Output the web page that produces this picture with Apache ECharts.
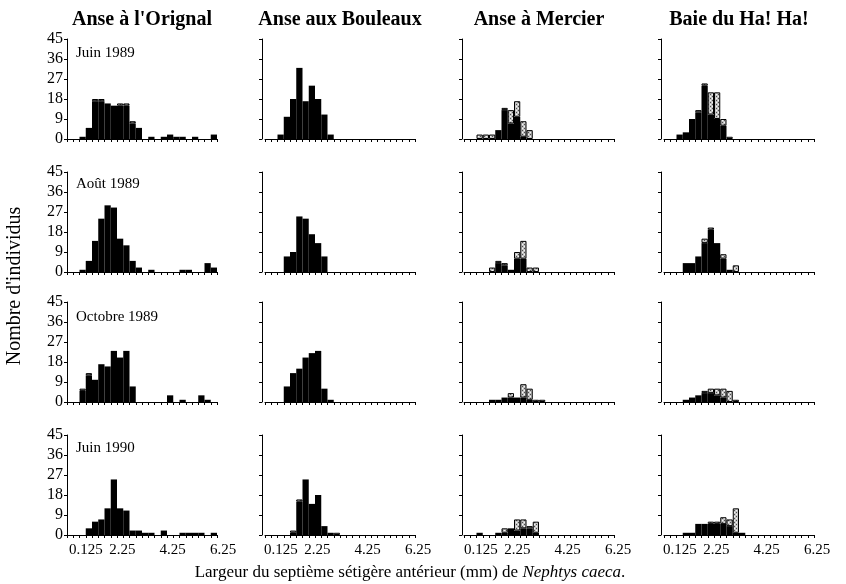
<!DOCTYPE html>
<html><head><meta charset="utf-8">
<script src="https://cdn.jsdelivr.net/npm/echarts@6/dist/echarts.min.js"></script>
<style>html,body{margin:0;padding:0;background:#fff}#c{width:846px;height:584px}</style>
</head><body><div id="c"></div>
<script>
// ---- Data ----
const sites = ["Anse à l'Orignal", "Anse aux Bouleaux", "Anse à Mercier", "Baie du Ha! Ha!"];
const dates = ["Juin 1989", "Août 1989", "Octobre 1989", "Juin 1990"];
const yTicks = [0, 9, 18, 27, 36, 45];
const xTickLabels = [0.125, 2.25, 4.25, 6.25];
const bins = ["b01","b02","b03","b04","b05","b06","b07","b08","b09","b10","b11","b12",
              "b13","b14","b15","b16","b17","b18","b19","b20","b21","b22","b23","b24"];

// black (solid) part and stippled part of each histogram, per bin
// Juin 1989
const orignal_jun89_black  = [0,0,1,5,17,17,16,15,15,15,7,5,0,1,0,1,2,1,1,0,1,0,0,2];
const orignal_jun89_stip   = [0,0,0,0,1,1,0,0,1,1,1,0,0,0,0,0,0,0,0,0,0,0,0,0];
const bouleaux_jun89_black = [0,0,2,10,18,32,17,24,18,11,2,0,0,0,0,0,0,0,0,0,0,0,0,0];
const bouleaux_jun89_stip  = [0,0,0,0,0,0,0,0,0,0,0,0,0,0,0,0,0,0,0,0,0,0,0,0];
const mercier_jun89_black  = [0,0,0,0,0,4,13,7,10,1,0,0,0,0,0,0,0,0,0,0,0,0,0,0];
const mercier_jun89_stip   = [0,0,2,2,2,0,1,6,7,7,4,0,0,0,0,0,0,0,0,0,0,0,0,0];
const haha_jun89_black     = [0,0,2,3,9,12,24,11,9,6,0,0,0,0,0,0,0,0,0,0,0,0,0,0];
const haha_jun89_stip      = [0,0,0,0,0,1,1,10,12,3,1,0,0,0,0,0,0,0,0,0,0,0,0,0];
// Août 1989
const orignal_aou89_black  = [0,0,1,5,14,24,30,29,15,12,5,2,0,1,0,0,0,0,1,1,0,0,4,2];
const orignal_aou89_stip   = [0,0,0,0,0,0,0,0,0,0,0,0,0,0,0,0,0,0,0,0,0,0,0,0];
const bouleaux_aou89_black = [0,0,0,7,9,25,24,17,13,7,0,0,0,0,0,0,0,0,0,0,0,0,0,0];
const bouleaux_aou89_stip  = [0,0,0,0,0,0,0,0,0,0,0,0,0,0,0,0,0,0,0,0,0,0,0,0];
const mercier_aou89_black  = [0,0,0,0,0,4,3,1,6,6,0,0,0,0,0,0,0,0,0,0,0,0,0,0];
const mercier_aou89_stip   = [0,0,0,0,2,1,1,0,3,8,2,2,0,0,0,0,0,0,0,0,0,0,0,0];
const haha_aou89_black     = [0,0,0,4,4,7,13,19,13,6,1,0,0,0,0,0,0,0,0,0,0,0,0,0];
const haha_aou89_stip      = [0,0,0,0,0,0,2,1,0,2,0,3,0,0,0,0,0,0,0,0,0,0,0,0];
// Octobre 1989
const orignal_oct89_black  = [0,0,5,12,10,17,16,23,20,23,7,0,0,0,0,0,3,0,1,0,0,3,1,0];
const orignal_oct89_stip   = [0,0,1,1,0,0,0,0,0,0,0,0,0,0,0,0,0,0,0,0,0,0,0,0];
const bouleaux_oct89_black = [0,0,0,7,13,15,20,22,23,6,1,0,0,0,0,0,0,0,0,0,0,0,0,0];
const bouleaux_oct89_stip  = [0,0,0,0,0,0,0,0,0,0,0,0,0,0,0,0,0,0,0,0,0,0,0,0];
const mercier_oct89_black  = [0,0,0,0,1,1,2,2,2,2,1,0,0,0,0,0,0,0,0,0,0,0,0,0];
const mercier_oct89_stip   = [0,0,0,0,0,0,0,2,0,6,5,1,1,0,0,0,0,0,0,0,0,0,0,0];
const haha_oct89_black     = [0,0,0,1,2,3,4,4,3,2,0,0,0,0,0,0,0,0,0,0,0,0,0,0];
const haha_oct89_stip      = [0,0,0,0,0,0,1,2,3,4,5,1,0,0,0,0,0,0,0,0,0,0,0,0];
// Juin 1990
const orignal_jun90_black  = [0,0,0,3,6,7,12,25,12,11,2,2,1,1,0,2,0,0,1,1,1,1,0,1];
const orignal_jun90_stip   = [0,0,0,0,0,0,0,0,0,0,0,0,0,0,0,0,0,0,0,0,0,0,0,0];
const bouleaux_jun90_black = [0,0,0,0,1,15,25,14,18,4,1,0,0,0,0,0,0,0,0,0,0,0,0,0];
const bouleaux_jun90_stip  = [0,0,0,0,1,1,0,0,0,0,0,1,0,0,0,0,0,0,0,0,0,0,0,0];
const mercier_jun90_black  = [0,0,1,0,0,1,1,3,2,3,3,1,0,0,0,0,0,0,0,0,0,0,0,0];
const mercier_jun90_stip   = [0,0,0,0,0,0,2,0,5,4,1,5,0,0,0,0,0,0,0,0,0,0,0,0];
const haha_jun90_black     = [0,0,0,1,1,5,5,5,5,5,4,1,1,0,0,0,0,0,0,0,0,0,0,0];
const haha_jun90_stip      = [0,0,0,0,0,0,0,1,1,3,3,11,0,0,0,0,0,0,0,0,0,0,0,0];

const panels = [
  [[orignal_jun89_black, orignal_jun89_stip],[bouleaux_jun89_black, bouleaux_jun89_stip],[mercier_jun89_black, mercier_jun89_stip],[haha_jun89_black, haha_jun89_stip]],
  [[orignal_aou89_black, orignal_aou89_stip],[bouleaux_aou89_black, bouleaux_aou89_stip],[mercier_aou89_black, mercier_aou89_stip],[haha_aou89_black, haha_aou89_stip]],
  [[orignal_oct89_black, orignal_oct89_stip],[bouleaux_oct89_black, bouleaux_oct89_stip],[mercier_oct89_black, mercier_oct89_stip],[haha_oct89_black, haha_oct89_stip]],
  [[orignal_jun90_black, orignal_jun90_stip],[bouleaux_jun90_black, bouleaux_jun90_stip],[mercier_jun90_black, mercier_jun90_stip],[haha_jun90_black, haha_jun90_stip]]
];

// ---- Layout ----
const axisX = [67, 262, 462, 661];      // y-axis line positions
const binShift = [0, 3, 2, 3];          // histogram start offset from the y-axis line
const rowTop = [39, 172, 302, 435];
const gW = 150, gH = 100;
const FONT = "'Liberation Serif', 'DejaVu Serif', serif";

function stipple() {
  const c = document.createElement('canvas');
  c.width = 4; c.height = 4;
  const g = c.getContext('2d');
  g.fillStyle = '#c4c4c4'; g.fillRect(0, 0, 4, 4);
  g.fillStyle = '#505050';
  g.fillRect(0, 0, 1, 1); g.fillRect(2, 2, 1, 1);
  g.fillStyle = '#f4f4f4';
  g.fillRect(2, 0, 1, 1); g.fillRect(0, 2, 1, 1);
  return c;
}
const stipPattern = { image: stipple(), repeat: 'repeat' };

const grid = [], xAxis = [], yAxis = [], series = [], graphic = [];
let gi = 0;
for (let r = 0; r < 4; r++) {
  for (let c = 0; c < 4; c++) {
    grid.push({ left: axisX[c] + binShift[c], top: rowTop[r], width: gW, height: gH });
    xAxis.push({
      type: 'category', gridIndex: gi, data: bins, position: 'bottom',
      boundaryGap: true,
      axisLine: { show: true, lineStyle: { color: '#000', width: 1 } },
      axisTick: { show: true, length: 3, interval: 0, lineStyle: { color: '#000' } },
      axisLabel: { show: false }, splitLine: { show: false }
    });
    yAxis.push({
      type: 'value', gridIndex: gi, min: 0, max: 45, interval: 9, offset: binShift[c],
      axisLine: { show: true, lineStyle: { color: '#000', width: 1 } },
      axisTick: { show: true, length: 3, lineStyle: { color: '#000' } },
      axisLabel: { show: c === 0, color: '#000', fontFamily: FONT, fontSize: 16, margin: 4,
        customValues: yTicks },
      splitLine: { show: false }
    });
    const [blk, stp] = panels[r][c];
    series.push({
      type: 'bar', xAxisIndex: gi, yAxisIndex: gi, stack: 's' + gi,
      barCategoryGap: '0%', data: blk,
      itemStyle: { color: '#000' }, silent: true, animation: false
    });
    series.push({
      type: 'bar', xAxisIndex: gi, yAxisIndex: gi, stack: 's' + gi,
      barCategoryGap: '0%', data: stp.map(v => v > 0 ? v : '-'),
      itemStyle: { color: stipPattern, borderColor: '#000', borderWidth: 1 },
      silent: true, animation: false
    });
    gi++;
  }
}
// separate invisible grids carrying the mm tick labels under the bottom row
for (let c = 0; c < 4; c++) {
  grid.push({ left: axisX[c] + 2, top: rowTop[3], width: 154, height: gH });
  xAxis.push({
    type: 'value', gridIndex: 16 + c, min: xTickLabels[0], max: xTickLabels[xTickLabels.length - 1],
    position: 'bottom',
    axisLine: { show: false }, axisTick: { show: false }, splitLine: { show: false },
    axisLabel: { show: true, customValues: xTickLabels, color: '#000', fontFamily: FONT,
      fontSize: 15, margin: 8, alignMinLabel: 'left', showMinLabel: true, showMaxLabel: true,
      hideOverlap: false }
  });
  yAxis.push({ type: 'value', gridIndex: 16 + c, show: false, min: 0, max: 45 });
}
// column titles
for (let c = 0; c < 4; c++) {
  graphic.push({ type: 'text', x: axisX[c] + binShift[c] + gW / 2, y: 20,
    style: { text: sites[c], font: "bold 20px " + FONT, fill: '#000', textAlign: 'center', textVerticalAlign: 'middle' } });
}
// date labels
const dateY = [53, 184, 317, 448];
for (let r = 0; r < 4; r++) {
  graphic.push({ type: 'text', x: 76, y: dateY[r],
    style: { text: dates[r], font: "15px " + FONT, fill: '#000', textAlign: 'left', textVerticalAlign: 'middle' } });
}
// axis titles
graphic.push({ type: 'text', x: 15, y: 286, rotation: Math.PI / 2,
  style: { text: "Nombre d'individus", font: "20px " + FONT, fill: '#000', textAlign: 'center', textVerticalAlign: 'middle' } });
graphic.push({ type: 'text', x: 410, y: 573,
  style: { rich: { n: { font: "17px " + FONT, fill: '#000' }, i: { font: "italic 17px " + FONT, fill: '#000' } },
    text: "{n|Largeur du septième sétigère antérieur (mm) de }{i|Nephtys caeca}{n|.}",
    textAlign: 'center', textVerticalAlign: 'middle' } });

const chart = echarts.init(document.getElementById('c'), null, { renderer: 'canvas' });
chart.setOption({ animation: false, backgroundColor: '#fff', grid, xAxis, yAxis, series, graphic });
</script>
</body></html>
